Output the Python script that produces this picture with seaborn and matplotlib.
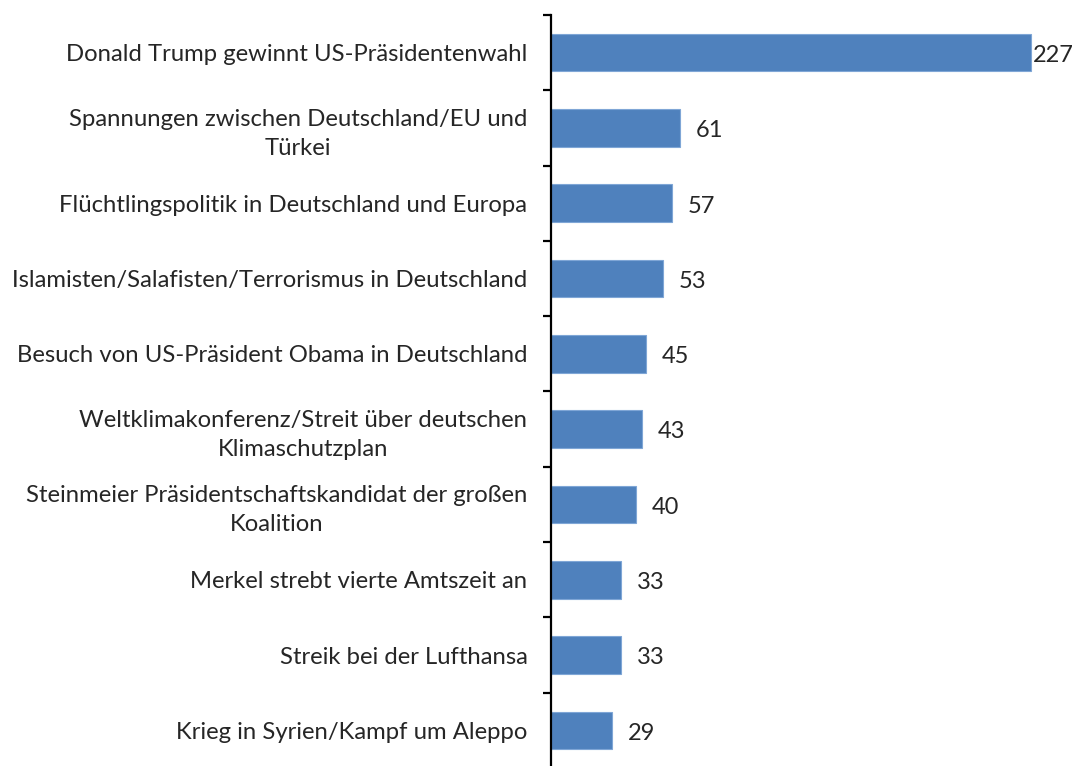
import matplotlib
matplotlib.use("Agg")
import matplotlib.pyplot as plt
import seaborn as sns
import pandas as pd
import numpy as np

categories = [
    "Donald Trump gewinnt US-Präsidentenwahl",
    "Spannungen zwischen Deutschland/EU und\nTürkei",
    "Flüchtlingspolitik in Deutschland und Europa",
    "Islamisten/Salafisten/Terrorismus in Deutschland",
    "Besuch von US-Präsident Obama in Deutschland",
    "Weltklimakonferenz/Streit über deutschen\nKlimaschutzplan",
    "Steinmeier Präsidentschaftskandidat der großen\nKoalition",
    "Merkel strebt vierte Amtszeit an",
    "Streik bei der Lufthansa",
    "Krieg in Syrien/Kampf um Aleppo",
]
values = [227, 61, 57, 53, 45, 43, 40, 33, 33, 29]

df = pd.DataFrame({"Thema": categories, "Anzahl": values})

sns.set_theme(style="white")
plt.rcParams["font.family"] = ["Lato", "DejaVu Sans"]

W, H = 1076, 766
fig = plt.figure(figsize=(W / 100, H / 100), dpi=100)
ax_left = 551 / W
ax_bottom = (H - 768) / H
ax_top = (H - 15) / H
ax = fig.add_axes([ax_left, ax_bottom, 1.0 - ax_left, ax_top - ax_bottom])

bar_color = "#4F81BD"
sns.barplot(data=df, y="Thema", x="Anzahl", orient="h", color=bar_color,
            width=0.5, ax=ax, saturation=1, edgecolor="#7FA6D6", linewidth=0.8)

ax.set_xlim(0, (W - 551) / ((1031 - 551) / 227))
ax.set_ylim(len(categories) - 0.5, -0.5)

for s in ["top", "right", "bottom"]:
    ax.spines[s].set_visible(False)
ax.spines["left"].set_color("#000000")
ax.spines["left"].set_linewidth(1.6)

ax.set_xticks([])
ax.set_xlabel("")
ax.set_ylabel("")
ax.set_yticks(range(len(categories)))
ax.set_yticklabels(categories, fontsize=17.2, color="#262626",
                   multialignment="center", linespacing=1.45)
ax.tick_params(axis="y", which="major", length=0, pad=17)
ax.set_yticks(np.arange(-0.5, len(categories) + 0.5, 1), minor=True)
ax.tick_params(axis="y", which="minor", length=6, width=1.6, color="#000000",
               direction="out", left=True)

vmax = max(values)
for i, v in enumerate(values):
    pad = 1 if v == vmax else 11.5
    ax.annotate(str(v), xy=(v, i), xytext=(pad, -2), textcoords="offset points",
                ha="left", va="center", fontsize=17, color="#262626")

fig.savefig("out.png", dpi=100)
